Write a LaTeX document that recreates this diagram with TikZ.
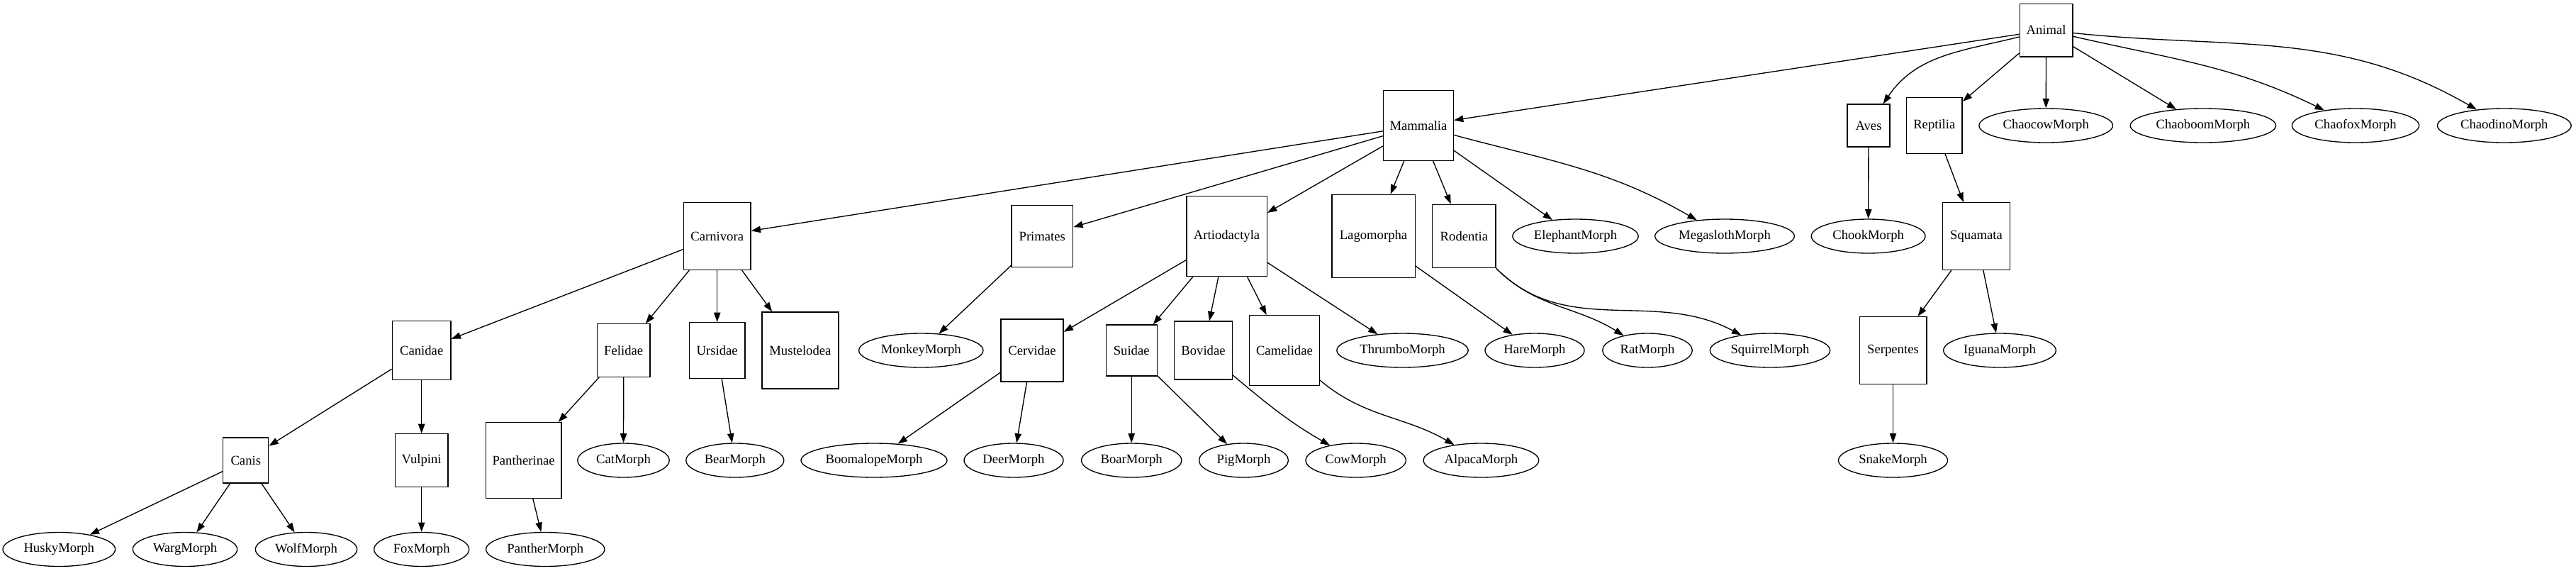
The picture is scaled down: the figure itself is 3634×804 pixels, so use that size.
\documentclass[tikz,border=0pt]{standalone}
\usepackage{fontspec}
\setmainfont{Liberation Serif}
\usetikzlibrary{shapes.geometric,arrows.meta}
\begin{document}
\begin{tikzpicture}[x=0.75pt,y=-0.75pt,
  every node/.style={font=\fontsize{14}{16}\selectfont, inner sep=0pt, line width=1pt},
  sq/.style={draw, rectangle, minimum size=#1},
  el/.style={draw, ellipse, minimum height=36pt, minimum width=#1},
  edge/.style={line width=1pt, -{Triangle[length=10pt,width=7pt]}}]
\useasboundingbox (0,0) rectangle (3634,804);
% level 0
\node[sq=56pt] (Animal) at (2886.6,42.5) {Animal};
% level 1
\node[sq=74pt] (Mammalia) at (2001,177) {Mammalia};
\node[sq=45pt] (Aves) at (2636,177) {Aves};
\node[sq=59pt] (Reptilia) at (2728.8,177) {Reptilia};
\node[el=141.5pt] (Chaocow) at (2886.2,177) {ChaocowMorph};
\node[el=154pt] (Chaoboom) at (3107.9,177) {ChaoboomMorph};
\node[el=134.5pt] (Chaofox) at (3323,177) {ChaofoxMorph};
\node[el=141.5pt] (Chaodino) at (3532.8,177) {ChaodinoMorph};
% level 2
\node[sq=71pt] (Carnivora) at (1011.7,333) {Carnivora};
\node[sq=65pt] (Primates) at (1470.3,333) {Primates};
\node[sq=85pt] (Artiodactyla) at (1730.6,333) {Artiodactyla};
\node[sq=88pt] (Lagomorpha) at (1937.5,333) {Lagomorpha};
\node[sq=67pt] (Rodentia) at (2065.4,333) {Rodentia};
\node[el=133pt] (Elephant) at (2222.5,333) {ElephantMorph};
\node[el=147.5pt] (Megasloth) at (2433,333) {MegaslothMorph};
\node[el=120.5pt] (Chook) at (2635.6,333) {ChookMorph};
\node[sq=71pt] (Squamata) at (2788,333) {Squamata};
% level 3
\node[sq=62pt] (Canidae) at (594.7,494) {Canidae};
\node[sq=56pt] (Felidae) at (879.7,494) {Felidae};
\node[sq=59pt] (Ursidae) at (1011.7,494) {Ursidae};
\node[sq=81pt] (Mustelodea) at (1128.9,494) {Mustelodea};
\node[el=131.5pt] (Monkey) at (1299.3,494) {MonkeyMorph};
\node[sq=66pt] (Cervidae) at (1456,494) {Cervidae};
\node[sq=54pt] (Suidae) at (1596.2,494) {Suidae};
\node[sq=61.5pt] (Bovidae) at (1697.5,494) {Bovidae};
\node[sq=74pt] (Camelidae) at (1811.9,494) {Camelidae};
\node[el=139pt] (Thrumbo) at (1978.5,494) {ThrumboMorph};
\node[el=105pt] (Hare) at (2165,494) {HareMorph};
\node[el=95pt] (Rat) at (2324,494) {RatMorph};
\node[el=127pt] (Squirrel) at (2497,494) {SquirrelMorph};
\node[sq=71pt] (Serpentes) at (2670.5,494) {Serpentes};
\node[el=119pt] (Iguana) at (2821,494) {IguanaMorph};
% level 4
\node[sq=48pt] (Canis) at (346.8,649) {Canis};
\node[sq=56pt] (Vulpini) at (594.7,649) {Vulpini};
\node[sq=80pt] (Pantherinae) at (738.6,649) {Pantherinae};
\node[el=97pt] (Cat) at (879.5,649) {CatMorph};
\node[el=103.5pt] (Bear) at (1036.8,649) {BearMorph};
\node[el=154.5pt] (Boomalope) at (1233,649) {BoomalopeMorph};
\node[el=105pt] (Deer) at (1430,649) {DeerMorph};
\node[el=106pt] (Boar) at (1596.2,649) {BoarMorph};
\node[el=94.5pt] (Pig) at (1754.5,649) {PigMorph};
\node[el=106pt] (Cow) at (1912.7,649) {CowMorph};
\node[el=122pt] (Alpaca) at (2089.4,649) {AlpacaMorph};
\node[el=115.5pt] (Snake) at (2670.5,649) {SnakeMorph};
% level 5
\node[el=119pt] (Husky) at (83.3,774.5) {HuskyMorph};
\node[el=110.5pt] (Warg) at (261,774.5) {WargMorph};
\node[el=107.5pt] (Wolf) at (432,774.5) {WolfMorph};
\node[el=100.5pt] (Fox) at (594.7,774.5) {FoxMorph};
\node[el=125.5pt] (Panther) at (769.3,774.5) {PantherMorph};
% edges
\draw[edge] (Animal) -- (Mammalia);
\draw[edge] (Animal) to[out=194,in=56] (Aves);
\draw[edge] (Animal) -- (Reptilia);
\draw[edge] (Animal) -- (Chaocow);
\draw[edge] (Animal) -- (Chaoboom);
\draw[edge] (Animal) to[out=-13,in=154] (Chaofox);
\draw[edge] (Animal) to[out=-6,in=150] (Chaodino);
\draw[edge] (Mammalia) -- (Carnivora);
\draw[edge] (Mammalia) -- (Primates);
\draw[edge] (Mammalia) -- (Artiodactyla);
\draw[edge] (Mammalia) -- (Lagomorpha);
\draw[edge] (Mammalia) -- (Rodentia);
\draw[edge] (Mammalia) -- (Elephant);
\draw[edge] (Mammalia) to[out=-15,in=150] (Megasloth);
\draw[edge] (Aves) -- (Chook);
\draw[edge] (Reptilia) -- (Squamata);
\draw[edge] (Carnivora) -- (Canidae);
\draw[edge] (Carnivora) -- (Felidae);
\draw[edge] (Carnivora) -- (Ursidae);
\draw[edge] (Carnivora) -- (Mustelodea);
\draw[edge] (Primates) -- (Monkey);
\draw[edge] (Artiodactyla) -- (Cervidae);
\draw[edge] (Artiodactyla) -- (Suidae);
\draw[edge] (Artiodactyla) -- (Bovidae);
\draw[edge] (Artiodactyla) -- (Camelidae);
\draw[edge] (Artiodactyla) -- (Thrumbo);
\draw[edge] (Lagomorpha) -- (Hare);
\draw[edge] (Rodentia) to[out=-45,in=148] (Rat);
\draw[edge] (Rodentia) to[out=-45,in=152] (Squirrel);
\draw[edge] (Squamata) -- (Serpentes);
\draw[edge] (Squamata) -- (Iguana);
\draw[edge] (Canidae) -- (Canis);
\draw[edge] (Canidae) -- (Vulpini);
\draw[edge] (Felidae) -- (Pantherinae);
\draw[edge] (Felidae) -- (Cat);
\draw[edge] (Ursidae) -- (Bear);
\draw[edge] (Cervidae) -- (Boomalope);
\draw[edge] (Cervidae) -- (Deer);
\draw[edge] (Suidae) -- (Boar);
\draw[edge] (Suidae) -- (Pig);
\draw[edge] (Bovidae) to[out=-40,in=150] (Cow);
\draw[edge] (Camelidae) to[out=-40,in=150] (Alpaca);
\draw[edge] (Serpentes) -- (Snake);
\draw[edge] (Canis) -- (Husky);
\draw[edge] (Canis) -- (Warg);
\draw[edge] (Canis) -- (Wolf);
\draw[edge] (Vulpini) -- (Fox);
\draw[edge] (Pantherinae) -- (Panther);
\end{tikzpicture}
\end{document}
